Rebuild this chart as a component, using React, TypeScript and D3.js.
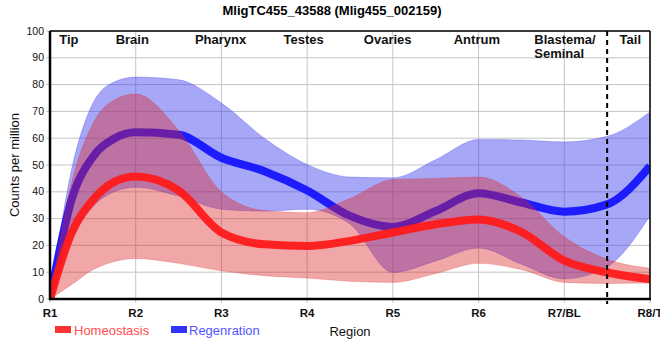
import React from 'react';
import * as d3 from 'd3';

const positions = [1, 1.25, 1.5, 1.75, 2, 2.5, 3, 3.5, 4, 4.5, 5, 5.5, 6, 6.5, 7, 7.5, 8];
const homeoMean = [0, 24.5, 36.9, 43.7, 45.7, 40.5, 24.8, 20.4, 19.8, 21.7, 24.8, 27.9, 29.7, 25, 14.3, 9.9, 7.4];
const homeoHi = [0, 43, 65.4, 74.3, 76.5, 63, 40, 33, 32.2, 37.5, 44.6, 45, 45.5, 38, 23.2, 14.8, 11.5];
const homeoLo = [0, 5.3, 10.9, 14, 15.1, 13.3, 10.5, 8.7, 7.8, 6.6, 6.2, 9.5, 13.3, 11, 6.2, 5.8, 6];
const regenMean = [0, 36.9, 53, 59.9, 62.2, 61.3, 52.7, 47.7, 40.5, 31, 26.9, 32.8, 39.5, 36, 32.6, 35.3, 49.6];
const regenHi = [0, 48, 73, 81, 82.8, 81.8, 73.1, 60, 50.2, 45.5, 45.2, 52, 59.5, 59.3, 58.6, 60.7, 69.8];
const regenLo = [0, 22, 34.4, 40, 41.7, 38.4, 33.5, 32.8, 33.5, 28, 9.9, 14.2, 19, 13, 7.5, 12, 31];

const xTickLabels = ['R1', 'R2', 'R3', 'R4', 'R5', 'R6', 'R7/BL', 'R8/T'];
const yTicks = [0, 10, 20, 30, 40, 50, 60, 70, 80, 90, 100];
const regionNames = ['Tip', 'Brain', 'Pharynx', 'Testes', 'Ovaries', 'Antrum', 'Tail'];
const regionPos = [1.22, 1.96, 2.99, 3.96, 4.94, 5.98, 7.77];
const blastemaLines = ['Blastema/', 'Seminal'];
const blastemaPos = 6.65;
const dividerPos = 7.5;

const W = 660, H = 360;
const left = 50, right = 650, top = 31, bottom = 299;

export default function App() {
  const x = d3.scaleLinear().domain([1, 8]).range([left, right]);
  const y = d3.scaleLinear().domain([0, 100]).range([bottom, top]);
  const idx = positions.map((_, i) => i);

  const area = (lo: number[], hi: number[]) =>
    d3.area<number>()
      .x(i => x(positions[i]))
      .y0(i => y(lo[i]))
      .y1(i => y(hi[i]))
      .curve(d3.curveMonotoneX)(idx) || '';
  const line = (v: number[]) =>
    d3.line<number>()
      .x(i => x(positions[i]))
      .y(i => y(v[i]))
      .curve(d3.curveMonotoneX)(idx) || '';

  const font = 'Arial, "Liberation Sans", sans-serif';

  return (
    <svg width={W} height={H} style={{ position: 'absolute', left: 0, top: 0, background: '#fff' }} fontFamily={font}>
      <defs>
        <clipPath id="plotclip">
          <rect x={left} y={top} width={right - left} height={bottom - top} />
        </clipPath>
      </defs>
      <text x={332} y={15} textAnchor="middle" fontWeight="bold" fontSize={13}>
        MligTC455_43588 (Mlig455_002159)
      </text>
      {/* grid */}
      {yTicks.map(t => (
        <line key={'gy' + t} x1={left - 4} x2={right} y1={y(t)} y2={y(t)} stroke="#c4c4c4" strokeWidth={1} />
      ))}
      {xTickLabels.map((_, i) => (
        <line key={'gx' + i} x1={x(i + 1)} x2={x(i + 1)} y1={top} y2={bottom + 4} stroke="#c4c4c4" strokeWidth={1} />
      ))}
      <g clipPath="url(#plotclip)">
        <path d={area(regenLo, regenHi)} fill="#3c3cf0" fillOpacity={0.45} stroke="#3c3cf0" strokeOpacity={0.3} strokeWidth={1} />
        <path d={line(regenMean)} fill="none" stroke="#1c1cff" strokeWidth={8} />
        <path d={area(homeoLo, homeoHi)} fill="#dc2222" fillOpacity={0.4} stroke="#dc2222" strokeOpacity={0.25} strokeWidth={1} />
        <path d={line(homeoMean)} fill="none" stroke="#ff1a1a" strokeOpacity={0.95} strokeWidth={8} />
      </g>
      {/* divider */}
      <line x1={x(dividerPos)} x2={x(dividerPos)} y1={top} y2={bottom + 5} stroke="#000" strokeWidth={2} strokeDasharray="5,4" />
      {/* frame */}
      <line x1={left} x2={right} y1={top} y2={top} stroke="#000" strokeWidth={1.5} />
      <line x1={right} x2={right} y1={top} y2={bottom} stroke="#000" strokeWidth={1.5} />
      <line x1={left} x2={left} y1={top} y2={bottom + 1} stroke="#000" strokeWidth={2.5} />
      <line x1={left - 1} x2={right + 1} y1={bottom} y2={bottom} stroke="#000" strokeWidth={2.5} />
      {/* y tick labels */}
      {yTicks.map(t => (
        <text key={'yl' + t} x={left - 6} y={y(t)} dy="0.35em" textAnchor="end" fontSize={10.5} fill="#111">{t}</text>
      ))}
      {/* x tick labels */}
      {xTickLabels.map((l, i) => (
        <text key={'xl' + l} x={x(i + 1)} y={317} textAnchor="middle" fontSize={11.5} fontWeight="bold" fill="#111">{l}</text>
      ))}
      {/* region labels */}
      {regionNames.map((n, i) => (
        <text key={n} x={x(regionPos[i])} y={44} textAnchor="middle" fontSize={13} fontWeight="bold" fill="#111">{n}</text>
      ))}
      {blastemaLines.map((l, i) => (
        <text key={l} x={x(blastemaPos)} y={44 + i * 14} textAnchor="start" fontSize={13} fontWeight="bold" fill="#111">{l}</text>
      ))}
      {/* axis titles */}
      <text transform={`translate(19,${(top + bottom) / 2}) rotate(-90)`} textAnchor="middle" fontSize={13} fill="#111">Counts per million</text>
      <text x={(left + right) / 2} y={336} textAnchor="middle" fontSize={13} fill="#111">Region</text>
      {/* legend */}
      <rect x={55} y={326} width={16} height={7} fill="#ff3333" />
      <text x={74} y={335} fontSize={13} fill="#ff4d4d">Homeostasis</text>
      <rect x={171} y={326} width={16} height={7} fill="#3333ff" />
      <text x={189} y={335} fontSize={13} fill="#5555ff">Regenration</text>
    </svg>
  );
}
